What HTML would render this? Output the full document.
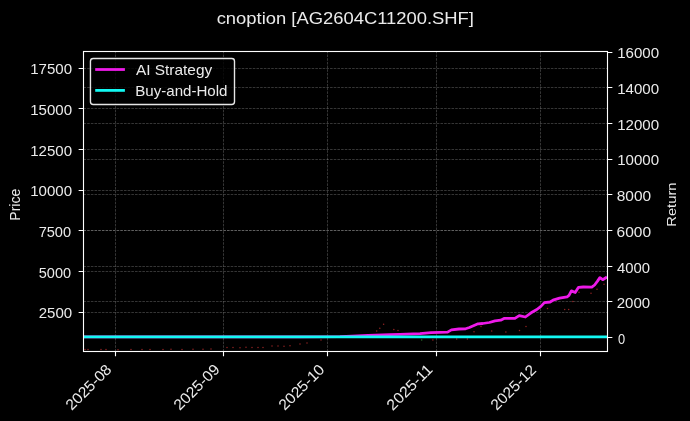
<!DOCTYPE html><html><head><meta charset="utf-8"><title>cnoption [AG2604C11200.SHF]</title><style>
html,body{margin:0;padding:0;background:#000;width:690px;height:421px;overflow:hidden}svg{display:block}
text{font-family:"Liberation Sans",sans-serif;fill:#ebebeb}#texts{opacity:.999}
</style></head><body>
<svg width="690" height="421" viewBox="0 0 690 421">
<rect width="690" height="421" fill="#000"/>
<g id="grid" fill="none" stroke="#fff" stroke-opacity="0.3" stroke-width="0.694" stroke-dasharray="2.57 1.11">
<path d="M115.5 351.5V51.5M223.5 351.5V51.5M327.5 351.5V51.5M436.5 351.5V51.5M540.5 351.5V51.5M83.5 68.5H607.5M83.5 108.5H607.5M83.5 149.5H607.5M83.5 190.5H607.5M83.5 230.5H607.5M83.5 271.5H607.5M83.5 312.5H607.5"/>
<path d="M83.5 337.5H607.5M83.5 301.5H607.5M83.5 266.5H607.5M83.5 230.5H607.5M83.5 194.5H607.5M83.5 159.5H607.5M83.5 123.5H607.5M83.5 87.5H607.5"/>
</g>
<g id="dots" fill="#d03030" fill-opacity="0.7"><circle cx="85" cy="349.6" r="0.75"/><circle cx="88" cy="349.4" r="0.75"/><circle cx="101" cy="349.6" r="0.75"/><circle cx="106" cy="349.5" r="0.75"/><circle cx="118" cy="349.7" r="0.75"/><circle cx="131" cy="349.5" r="0.75"/><circle cx="142" cy="349.6" r="0.75"/><circle cx="150" cy="349.4" r="0.75"/><circle cx="163" cy="349.5" r="0.75"/><circle cx="171" cy="349.3" r="0.75"/><circle cx="182" cy="349.4" r="0.75"/><circle cx="193" cy="349.2" r="0.75"/><circle cx="203" cy="349.3" r="0.75"/><circle cx="211" cy="349.1" r="0.75"/><circle cx="227" cy="347.6" r="0.75"/><circle cx="233" cy="347.5" r="0.75"/><circle cx="240" cy="347.7" r="0.75"/><circle cx="246" cy="347.3" r="0.75"/><circle cx="252" cy="347.6" r="0.75"/><circle cx="258" cy="347.4" r="0.75"/><circle cx="263" cy="347.5" r="0.75"/><circle cx="272" cy="346.1" r="0.75"/><circle cx="278" cy="346" r="0.75"/><circle cx="284" cy="346.2" r="0.75"/><circle cx="290" cy="345.8" r="0.75"/><circle cx="300" cy="343.9" r="0.75"/><circle cx="307" cy="342.9" r="0.75"/><circle cx="321" cy="340" r="0.75"/><circle cx="376.7" cy="331.1" r="0.75"/><circle cx="379.8" cy="328.2" r="0.75"/><circle cx="383.6" cy="324.2" r="0.75"/><circle cx="393.8" cy="329.4" r="0.75"/><circle cx="398" cy="330.5" r="0.75"/><circle cx="432.9" cy="339.9" r="0.75"/><circle cx="456.7" cy="338.9" r="0.75"/><circle cx="467.4" cy="338.9" r="0.75"/><circle cx="474" cy="331.7" r="0.75"/><circle cx="481" cy="326.6" r="0.75"/><circle cx="491.7" cy="331" r="0.75"/><circle cx="505.9" cy="332" r="0.75"/><circle cx="519.5" cy="330.6" r="0.75"/><circle cx="526" cy="326.5" r="0.75"/><circle cx="547.5" cy="308.5" r="0.75"/><circle cx="564.7" cy="309.5" r="0.75"/><circle cx="568.7" cy="309.5" r="0.75"/><circle cx="572.8" cy="301.4" r="0.75"/><circle cx="579" cy="292.3" r="0.75"/><circle cx="591" cy="293.3" r="0.75"/><circle cx="597" cy="289.3" r="0.75"/><circle cx="604" cy="284.2" r="0.75"/><circle cx="421.7" cy="339.9" r="0.75" fill="#3a9a3a"/></g>
<g fill="none" stroke-width="2.78" stroke-linejoin="round">
<polyline id="mag" stroke="#ee1ae9" points="83.5,336.8 300,336.8 340,336.6 352,336.2 368,335.5 390,334.6 400,334.3 420,333.6 431,332.6 440,332.3 447.6,332.1 451.4,329.9 459,329 465.6,328.8 469.4,327.5 478,323.8 482.7,323.5 489.4,322.5 495,320.8 500.7,320.2 504.5,318.3 514.9,318.4 519.2,315.6 525.4,317 531.1,312.8 536.8,309.5 540.6,306.6 544.4,302.6 550.1,302 553.8,299.8 559.5,298.1 567.1,296.8 569,295.4 571.4,290.9 575.2,292.5 578.5,287.3 583.2,287 591.8,287.2 594.6,285 597.5,281.1 599.9,277.6 602.7,279.7 607,277"/>
<path id="cyan" stroke="#12f8f2" d="M83.5 336.8H607.5"/>
</g>
<g id="axes" fill="none" stroke="#fff" stroke-width="1.111">
<rect x="83.5" y="51.5" width="524" height="300"/>
<path d="M115.5 351.5v4.86M223.5 351.5v4.86M327.5 351.5v4.86M436.5 351.5v4.86M540.5 351.5v4.86M83.5 68.5h-4.86M83.5 108.5h-4.86M83.5 149.5h-4.86M83.5 190.5h-4.86M83.5 230.5h-4.86M83.5 271.5h-4.86M83.5 312.5h-4.86M607.5 337.5h4.86M607.5 301.5h4.86M607.5 266.5h4.86M607.5 230.5h4.86M607.5 194.5h4.86M607.5 159.5h4.86M607.5 123.5h4.86M607.5 87.5h4.86M607.5 52.5h4.86"/>
</g>
<g id="legend">
<rect x="90.45" y="58.45" width="144.05" height="46" rx="2.78" fill="#000" fill-opacity="0.8" stroke="#fff" stroke-opacity="0.9" stroke-width="1.39"/>
<path d="M95.2 69.5H124.9" stroke="#ee1ae9" stroke-width="2.78"/>
<path d="M95.2 90.4H124.9" stroke="#12f8f2" stroke-width="2.78"/>
</g>
<g id="texts">
<text id="t0" font-size="13.89" transform="translate(38.64 318) scale(1.0842 1.0426)">2500</text>
<text id="t1" font-size="13.89" transform="translate(38.77 278) scale(1.0470 1.0426)">5000</text>
<text id="t2" font-size="13.89" transform="translate(38.66 237) scale(1.0505 1.0426)">7500</text>
<text id="t3" font-size="13.89" transform="translate(30.20 196) scale(1.0865 1.0426)">10000</text>
<text id="t4" font-size="13.89" transform="translate(30.20 156) scale(1.0865 1.0426)">12500</text>
<text id="t5" font-size="13.89" transform="translate(30.20 115) scale(1.0865 1.0426)">15000</text>
<text id="t6" font-size="13.89" transform="translate(30.20 74) scale(1.0865 1.0426)">17500</text>
<text id="t7" font-size="13.89" transform="translate(71.864 411.123) rotate(-45) scale(1.1280 1.0916)">2025-08</text>
<text id="t8" font-size="13.89" transform="translate(179.863 411.124) rotate(-45) scale(1.1303 1.0916)">2025-09</text>
<text id="t9" font-size="13.89" transform="translate(284.864 411.123) rotate(-45) scale(1.1280 1.0916)">2025-10</text>
<text id="t10" font-size="13.89" transform="translate(392.852 411.135) rotate(-45) scale(1.1535 1.0916)">2025-11</text>
<text id="t11" font-size="13.89" transform="translate(496.870 411.117) rotate(-45) scale(1.1160 1.0916)">2025-12</text>
<text id="t12" font-size="13.89" transform="translate(617.94 344) scale(0.9254 1.0426)">0</text>
<text id="t13" font-size="13.89" transform="translate(616.64 308) scale(1.0842 1.0426)">2000</text>
<text id="t14" font-size="13.89" transform="translate(617.08 273) scale(1.0698 1.0426)">4000</text>
<text id="t15" font-size="13.89" transform="translate(616.62 237) scale(1.1178 1.0426)">6000</text>
<text id="t16" font-size="13.89" transform="translate(616.73 201) scale(1.1141 1.0426)">8000</text>
<text id="t17" font-size="13.89" transform="translate(617.20 165) scale(1.0865 1.0426)">10000</text>
<text id="t18" font-size="13.89" transform="translate(617.20 130) scale(1.0865 1.0426)">12000</text>
<text id="t19" font-size="13.89" transform="translate(617.20 94) scale(1.0865 1.0426)">14000</text>
<text id="t20" font-size="13.89" transform="translate(617.20 58) scale(1.0865 1.0426)">16000</text>
<text id="t21" font-size="16.67" transform="translate(216.63 24) scale(1.1043 1.0450)">cnoption [AG2604C11200.SHF]</text>
<text id="t22" font-size="13.89" transform="translate(20.488 220.711) rotate(-90) scale(1.0100 1.0195)">Price</text>
<text id="t23" font-size="13.89" transform="translate(675.505 226.769) rotate(-90) scale(1.0630 0.9485)">Return</text>
<text id="t24" font-size="13.89" transform="translate(135.90 75) scale(1.1110 1.0450)">AI Strategy</text>
<text id="t25" font-size="13.89" transform="translate(135.20 96) scale(1.0881 1.0450)">Buy-and-Hold</text>
</g>
</svg></body></html>
